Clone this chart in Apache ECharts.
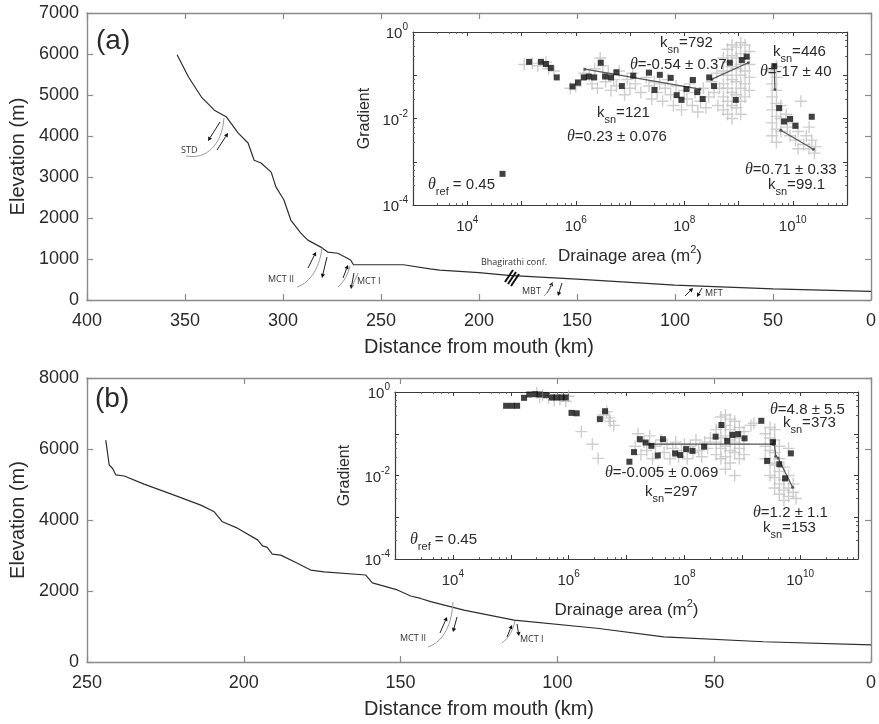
<!DOCTYPE html>
<html><head><meta charset="utf-8">
<script src="https://cdn.jsdelivr.net/npm/echarts@6/dist/echarts.min.js"></script>
<style>html,body{margin:0;padding:0;background:#fff}#c{width:879px;height:724px}</style>
</head><body><div id="c"></div><script>
// ---------- DATA ----------
// Panel (a) river long profile
const profA_km   = [354,348.2,341.6,335,329,322.8,317.8,314.7,311.2,306,303.6,299.5,296,290.9,287.3,280.7,277.2,272,265.5,264,238.6,225,220,200,185,150,100,50,0];
const profA_elev = [5980,5440,4950,4630,4470,4070,3830,3410,3340,3120,2760,2440,1950,1630,1460,1290,1170,1140,975,860,860,760,730,670,600,510,365,270,210];
// Panel (b) river long profile
const profB_km   = [244,242.9,241.8,240.8,238.1,231.8,222.2,213.7,209.4,206.8,202,195.6,194,192.5,190.9,188.2,182.9,178.7,174.4,161.1,159,151,146.8,143.6,140.4,129.8,113.8,87.4,66.1,34.3,0];
const profB_elev = [6250,5550,5450,5270,5240,5010,4700,4420,4230,3950,3770,3440,3270,3230,3040,3010,2780,2590,2540,2450,2230,2030,1860,1790,1700,1460,1180,950,710,570,480];

// Inset (a): values as [log10(drainage area m2), log10(gradient)]
const insetA_crosses = [
 [5.05,-0.75],[5.2,-0.72],[5.3,-0.78],[5.45,-0.7],[5.5,-0.85],[5.6,-0.9],[5.9,-1.3],[6.0,-1.25],[6.1,-1.1],[6.15,-0.95],
 [6.25,-1.0],[6.3,-1.2],[6.35,-0.85],[6.4,-1.3],[6.45,-0.6],[6.5,-0.78],[6.55,-1.15],[6.6,-0.95],[6.65,-1.35],[6.7,-1.1],
 [6.75,-1.25],[6.8,-0.9],[6.9,-1.45],[6.95,-1.1],[7.0,-1.3],
 [7.05,-0.95],[7.1,-1.2],[7.2,-1.4],[7.3,-1.05],[7.35,-1.25],[7.4,-1.55],[7.45,-1.15],[7.5,-1.4],[7.55,-1.2],[7.6,-1.6],
 [7.65,-1.3],[7.7,-1.1],[7.75,-1.45],[7.8,-1.7],[7.85,-1.25],[7.9,-1.5],[7.95,-1.8],[8.0,-1.35],
 [8.05,-1.55],[8.1,-1.2],[8.15,-1.7],[8.2,-1.4],[8.25,-1.85],[8.3,-1.6],[8.35,-1.3],[8.4,-1.75],[8.45,-1.5],[8.5,-1.15],
 [8.55,-1.4],[8.6,-0.95],[8.62,-1.7],[8.65,-1.3],
 [8.72,-0.6],[8.72,-0.9],[8.72,-1.2],[8.72,-1.5],[8.72,-1.8],
 [8.8,-0.4],[8.8,-0.7],[8.8,-1.0],[8.8,-1.3],[8.8,-1.6],[8.8,-1.9],
 [8.88,-0.3],[8.88,-0.55],[8.88,-0.8],[8.88,-1.1],[8.88,-1.4],[8.88,-1.7],[8.88,-2.0],
 [8.96,-0.35],[8.96,-0.6],[8.96,-0.85],[8.96,-1.15],[8.96,-1.45],[8.96,-1.75],
 [9.04,-0.25],[9.04,-0.5],[9.04,-0.75],[9.04,-1.0],[9.04,-1.3],[9.04,-1.6],[9.04,-1.9],
 [9.12,-0.3],[9.12,-0.6],[9.12,-0.9],[9.12,-1.2],[9.12,-1.5],
 [9.2,-0.45],[9.2,-0.75],[9.2,-1.05],[9.2,-1.35],
 [9.62,-0.9],[9.62,-1.2],[9.62,-1.5],[9.62,-1.8],[9.62,-2.1],[9.62,-2.4],
 [9.7,-0.8],[9.7,-1.05],[9.7,-1.35],[9.7,-1.65],[9.7,-1.95],[9.7,-2.25],[9.7,-2.55],
 [9.78,-1.7],[9.78,-2.0],[9.78,-2.3],
 [9.88,-1.9],[9.9,-2.2],[9.95,-2.4],[10.0,-2.1],[10.05,-2.5],[10.1,-2.3],[10.15,-1.6],[10.2,-2.6],[10.25,-2.4],
 [10.3,-2.7],[10.35,-2.5],[10.4,-2.8],[10.42,-2.65],[10.3,-2.2],[10.1,-2.7]
];
const insetA_squares = [
 [4.65,-3.28],[5.14,-0.69],[5.36,-0.69],[5.45,-0.74],[5.54,-0.83],[5.65,-1.05],[5.94,-1.26],[6.04,-1.17],[6.15,-1.05],
 [6.24,-1.03],[6.34,-1.05],[6.46,-0.71],[6.54,-1.03],[6.65,-1.05],[6.75,-0.93],[6.85,-1.25],[7.06,-1.01],[7.35,-0.94],
 [7.45,-1.34],[7.55,-0.99],[7.75,-1.06],[7.86,-1.46],[7.95,-1.57],[8.04,-1.32],[8.16,-1.11],[8.24,-1.39],[8.34,-1.55],
 [8.46,-1.05],[8.55,-1.25],[8.84,-0.71],[8.95,-1.57],[9.06,-0.65],[9.15,-0.57],[9.66,-0.79],[9.75,-1.76],[9.84,-2.07],
 [9.95,-2.01],[10.05,-2.17],[10.35,-1.96]
];
const insetA_fits = [
 [[6.17,-0.86],[8.29,-1.32]],
 [[8.51,-1.09],[9.18,-0.71]],
 [[9.66,-0.76],[9.67,-1.33]],
 [[9.78,-2.27],[10.38,-2.71]]
];
// Inset (b)
const insetB_crosses = [
 [5.45,-0.02],[5.55,-0.08],[5.65,-0.15],[5.75,-0.2],[5.85,-0.18],[5.95,-0.22],[6.0,-0.1],[5.5,-0.12],
 [6.22,-0.95],[6.41,-1.25],[6.51,-1.59],[6.6,-0.55],[6.66,-0.47],[6.72,-0.7],[6.78,-0.8],[6.7,-0.62],
 [7.15,-1.3],[7.2,-1.0],[7.25,-1.5],[7.3,-1.2],[7.35,-1.4],[7.4,-1.05],[7.45,-1.6],[7.5,-1.3],[7.55,-1.9],[7.6,-1.15],
 [7.65,-1.45],[7.7,-1.25],[7.75,-1.6],[7.8,-1.35],[7.85,-1.2],[7.9,-1.55],[7.95,-1.4],[8.0,-1.25],[8.05,-1.6],[8.1,-1.3],
 [8.15,-1.45],[8.2,-1.15],[8.25,-1.4],[8.3,-1.55],[8.35,-1.2],[8.4,-1.35],[8.45,-1.1],
 [8.55,-0.9],[8.55,-1.2],[8.55,-1.5],
 [8.63,-0.6],[8.63,-0.85],[8.63,-1.1],[8.63,-1.35],[8.63,-1.6],
 [8.71,-0.55],[8.71,-0.8],[8.71,-1.05],[8.71,-1.3],[8.71,-1.55],[8.71,-1.85],
 [8.79,-0.65],[8.79,-0.9],[8.79,-1.15],[8.79,-1.4],[8.79,-1.7],
 [8.87,-0.7],[8.87,-0.95],[8.87,-1.2],[8.87,-1.45],[8.87,-2.0],
 [8.95,-0.85],[8.95,-1.1],[8.95,-1.35],[8.95,-1.6],
 [9.03,-0.95],[9.03,-1.25],[9.03,-1.5],[9.15,-0.8],[9.2,-0.75],
 [9.4,-1.0],[9.4,-1.3],[9.4,-1.6],
 [9.48,-0.85],[9.48,-1.1],[9.48,-1.4],[9.48,-1.7],[9.48,-2.0],
 [9.56,-0.9],[9.56,-1.15],[9.56,-1.45],[9.56,-1.75],[9.56,-2.05],[9.56,-2.3],
 [9.64,-1.3],[9.64,-1.6],[9.64,-1.9],[9.64,-2.2],[9.64,-2.45],
 [9.72,-1.8],[9.72,-2.1],[9.72,-2.35],[9.72,-2.6],
 [9.8,-1.35],[9.8,-2.0],[9.8,-2.3],[9.8,-2.5],
 [9.88,-2.2],[9.88,-2.4],[9.93,-2.55]
];
const insetB_squares = [
 [4.92,-0.33],[5.02,-0.33],[5.11,-0.33],[5.23,-0.14],[5.32,-0.06],[5.42,-0.05],[5.5,-0.06],[5.61,-0.07],
 [5.71,-0.13],[5.79,-0.13],[5.88,-0.13],[5.95,-0.13],[6.05,-0.5],[6.14,-0.51],[6.54,-0.65],[6.63,-0.46],
 [7.05,-1.67],[7.13,-1.44],[7.23,-1.13],[7.33,-1.21],[7.43,-1.29],[7.54,-1.52],[7.63,-1.13],[7.84,-1.47],
 [7.93,-1.51],[8.03,-1.37],[8.14,-1.41],[8.34,-1.31],[8.54,-1.07],[8.64,-0.79],[8.74,-1.17],[8.83,-1.03],
 [8.93,-1.01],[9.04,-1.11],[9.33,-0.69],[9.53,-1.2],[9.43,-1.65],[9.64,-1.73],[9.74,-2.07],[9.84,-1.47]
];
const insetB_fits = [
 [[7.4,-1.25],[9.53,-1.25]],
 [[9.55,-1.18],[9.58,-1.54]],
 [[9.62,-1.58],[9.87,-2.28]]
];
const mainTicksA = {min:0, max:400, interval:50};
const mainTicksB = {min:0, max:250, interval:50};

// ---------- CHART ----------
const FF = 'Liberation Sans, Arial, sans-serif';
const T = '#2a2a2a';
const GRID_C = '#8a8a8a';
const pw = v => Math.pow(10, v);
const toXY = arr => arr.map(p => [pw(p[0]), pw(p[1])]);

function logLabel(v){
  const e = Math.round(Math.log10(v));
  if (e % 2 !== 0) return '';
  return '{b|10}{sup|' + e + '}';
}
const richLog = {
  b:{fontSize:15, lineHeight:19, verticalAlign:'bottom', color:T, fontFamily:FF},
  sup:{fontSize:10, lineHeight:10, verticalAlign:'top', color:T, fontFamily:FF}
};

function mainX(grid, cfg, pos, show){
  return {type:'value', gridIndex:grid, position:pos, inverse:true, min:cfg.min, max:cfg.max, interval:cfg.interval,
    axisLine:{show:true, onZero:false, lineStyle:{color:GRID_C, width:1.4}},
    axisTick:{show:true, inside:true, length:6, lineStyle:{color:GRID_C, width:1.2}},
    axisLabel:{show:show, color:T, fontSize:18, fontFamily:FF, margin:12, formatter:v => String(v)},
    splitLine:{show:false},
    name: show ? 'Distance from mouth (km)' : '', nameLocation:'middle', nameGap:37,
    nameTextStyle:{color:T, fontSize:20, fontFamily:FF}};
}
function mainY(grid, max, interval, pos, show){
  return {type:'value', gridIndex:grid, position:pos, min:0, max:max, interval:interval,
    axisLine:{show:true, onZero:false, lineStyle:{color:GRID_C, width:1.4}},
    axisTick:{show:true, inside:true, length:6, lineStyle:{color:GRID_C, width:1.2}},
    axisLabel:{show:show, color:T, fontSize:18, fontFamily:FF, margin:8, formatter:v => String(v)},
    splitLine:{show:false},
    name: show ? 'Elevation (m)' : '', nameLocation:'middle', nameGap:57,
    nameTextStyle:{color:T, fontSize:20, fontFamily:FF}};
}
function insetX(grid, pos, show, gap){
  return {type:'log', logBase:10, gridIndex:grid, position:pos, min:1e3, max:1e11, interval:1,
    axisLine:{show:true, onZero:false, lineStyle:{color:'#3a3a3a', width:1.2}},
    axisTick:{show:true, inside:true, length:4, lineStyle:{color:'#3a3a3a'}},
    minorTick:{show:true, splitNumber:5, length:2, lineStyle:{color:'#666'}},
    axisLabel:{show:show, formatter:logLabel, rich:richLog, margin:10},
    splitLine:{show:false}, minorSplitLine:{show:false},
    name: show ? '{n|Drainage area (m}{s|2}{n|)}' : '', nameLocation:'middle', nameGap:gap,
    nameTextStyle:{rich:{n:{fontSize:17, lineHeight:21, verticalAlign:'bottom', color:T, fontFamily:FF},
                         s:{fontSize:11, lineHeight:11, verticalAlign:'top', color:T, fontFamily:FF}}}};
}
function insetY(grid, pos, show, gap){
  return {type:'log', logBase:10, gridIndex:grid, position:pos, min:1e-4, max:1, interval:1,
    axisLine:{show:true, onZero:false, lineStyle:{color:'#3a3a3a', width:1.2}},
    axisTick:{show:true, inside:true, length:4, lineStyle:{color:'#3a3a3a'}},
    minorTick:{show:true, splitNumber:5, length:2, lineStyle:{color:'#666'}},
    axisLabel:{show:show, formatter:logLabel, rich:richLog, margin:5},
    splitLine:{show:false}, minorSplitLine:{show:false},
    name: show ? 'Gradient' : '', nameLocation:'middle', nameGap:gap,
    nameTextStyle:{color:T, fontSize:16, fontFamily:FF}};
}

const crossSym = 'path://M5,0L5,10M0,5L10,5';
function crossSeries(xi, data){
  return {type:'scatter', xAxisIndex:xi, yAxisIndex:xi, data:toXY(data), symbol:crossSym, symbolSize:12,
    itemStyle:{color:'rgba(0,0,0,0)', borderColor:'#c2c2c2', borderWidth:1.4}, z:3, silent:true};
}
function squareSeries(xi, data){
  return {type:'scatter', xAxisIndex:xi, yAxisIndex:xi, data:toXY(data), symbol:'rect', symbolSize:6,
    itemStyle:{color:'#111'}, z:5, silent:true};
}
function fitSeries(xi, fits){
  return fits.map(f => ({type:'line', xAxisIndex:xi, yAxisIndex:xi, data:toXY(f), symbol:'circle', symbolSize:3,
    showSymbol:true, lineStyle:{color:'#555', width:1.2}, itemStyle:{color:'#555'}, z:4, silent:true}));
}
function profileSeries(xi, km, elev){
  return {type:'line', xAxisIndex:xi, yAxisIndex:xi, data:km.map((k,i)=>[k, elev[i]]), symbol:'none',
    lineStyle:{color:'#2e2e2e', width:1.2}, z:3, silent:true};
}

// annotations
const ann = {
  b:{fontSize:15, lineHeight:16, verticalAlign:'top', fill:T, color:T, fontFamily:FF},
  s:{fontSize:11, lineHeight:11, padding:[9,0,0,0], verticalAlign:'top', fill:T, color:T, fontFamily:FF},
  it:{fontSize:16, lineHeight:16, verticalAlign:'top', fontStyle:'italic', fill:T, color:T, fontFamily:'Liberation Serif, serif'}
};
function txt(x, y, text){
  return {type:'text', x:x, y:y, z:50, style:{text:text, rich:ann, fill:T, align:'left', verticalAlign:'top', fontSize:15, fontFamily:FF}};
}
function small(x, y, text, align){
  return {type:'text', x:x, y:y, z:50, style:{text:text, fill:'#333', fontSize:9, fontFamily:'Open Sans, sans-serif', align:align||'left', verticalAlign:'middle'}};
}
function arc(p){
  return {type:'bezierCurve', z:40, shape:{x1:p[0],y1:p[1],cpx1:p[2],cpy1:p[3],cpx2:p[4],cpy2:p[5],x2:p[6],y2:p[7]},
    style:{stroke:'#9a9a9a', lineWidth:1, fill:null}};
}
function arrow(x1,y1,x2,y2){
  const dx=x2-x1, dy=y2-y1, L=Math.hypot(dx,dy), ux=dx/L, uy=dy/L, h=4, w=2.2;
  const bx=x2-ux*h, by=y2-uy*h;
  return {type:'group', z:41, children:[
    {type:'line', shape:{x1:x1,y1:y1,x2:bx,y2:by}, style:{stroke:'#222', lineWidth:1}},
    {type:'polygon', shape:{points:[[x2,y2],[bx-uy*w,by+ux*w],[bx+uy*w,by-ux*w]]}, style:{fill:'#111'}}
  ]};
}
const graphics = [
  {type:'text', x:96, y:27, z:50, style:{text:'(a)', fill:T, fontSize:28, fontFamily:FF}},
  {type:'text', x:95, y:385, z:50, style:{text:'(b)', fill:T, fontSize:28, fontFamily:FF}},
  // inset a
  txt(660,35,'{b|k}{s|sn}{b|=792}'),
  txt(630,57,'{it|θ}{b|=-0.54 ± 0.37}'),
  txt(597,105,'{b|k}{s|sn}{b|=121}'),
  txt(567,129,'{it|θ}{b|=0.23 ± 0.076}'),
  txt(773,44,'{b|k}{s|sn}{b|=446}'),
  txt(760,64,'{it|θ}{b|=-17 ± 40}'),
  txt(745,162,'{it|θ}{b|=0.71 ± 0.33}'),
  txt(768,177,'{b|k}{s|sn}{b|=99.1}'),
  txt(428,177,'{it|θ}{s|ref}{b| = 0.45}'),
  // inset b
  txt(770,402,'{it|θ}{b|=4.8 ± 5.5}'),
  txt(783,415,'{b|k}{s|sn}{b|=373}'),
  txt(605,465,'{it|θ}{b|=-0.005 ± 0.069}'),
  txt(645,484,'{b|k}{s|sn}{b|=297}'),
  txt(753,505,'{it|θ}{b|=1.2 ± 1.1}'),
  txt(763,520,'{b|k}{s|sn}{b|=153}'),
  txt(410,532,'{it|θ}{s|ref}{b| = 0.45}'),
  // faults panel a
  small(181,150,'STD'),
  arc([186,156, 206,160, 222,145, 224,118]),
  arrow(220,122,208,141), arrow(217,150,228,133),
  small(268,279,'MCT II'),
  arc([297,287, 312,282, 320,265, 322,248]),
  arrow(308,268,316,252), arrow(327,257,322,278),
  small(357,281,'MCT I'),
  arc([338,287, 344,282, 348,274, 350,266]),
  {type:'line', z:40, shape:{x1:352,y1:287,x2:358,y2:273}, style:{stroke:'#9a9a9a', lineWidth:1}},
  arrow(343,278,348,265), arrow(354,273,351,289),
  small(514,262,'Bhagirathi conf.','center'),
  {type:'line', z:42, shape:{x1:505,y1:282,x2:513,y2:270}, style:{stroke:'#111', lineWidth:2}},
  {type:'line', z:42, shape:{x1:508,y1:284,x2:516,y2:272}, style:{stroke:'#111', lineWidth:2}},
  {type:'line', z:42, shape:{x1:511,y1:286,x2:519,y2:274}, style:{stroke:'#111', lineWidth:2}},
  small(522,291,'MBT'),
  arc([544,296, 548,292, 551,288, 553,282]),
  arrow(547,293,553,282), arrow(562,283,558,296),
  arrow(685,296,693,288), arrow(702,288,697,297),
  small(705,293,'MFT'),
  // faults panel b
  small(400,638,'MCT II'),
  arc([428,647, 445,641, 452,622, 453,602]),
  arrow(440,633,447,617), arrow(457,617,453,632),
  arc([502,643, 509,638, 513,630, 515,621]),
  arrow(507,637,512,625), arrow(517,624,519,636),
  small(520,639,'MCT I')
];

const option = {
  animation:false,
  backgroundColor:'#fff',
  grid:[
    {left:85, top:13, width:788, height:287},
    {left:413, top:32, width:434, height:173, show:true, backgroundColor:'#fff', borderWidth:0},
    {left:86, top:378, width:785, height:284},
    {left:395, top:392, width:463, height:167, show:true, backgroundColor:'#fff', borderWidth:0}
  ],
  xAxis:[
    mainX(0, mainTicksA, 'bottom', true), mainX(0, mainTicksA, 'top', false),
    insetX(1, 'bottom', true, 39), insetX(1, 'top', false, 0),
    mainX(2, mainTicksB, 'bottom', true), mainX(2, mainTicksB, 'top', false),
    insetX(3, 'bottom', true, 39), insetX(3, 'top', false, 0)
  ],
  yAxis:[
    mainY(0, 7000, 1000, 'left', true), mainY(0, 7000, 1000, 'right', false),
    insetY(1, 'left', true, 40), insetY(1, 'right', false, 0),
    mainY(2, 8000, 2000, 'left', true), mainY(2, 8000, 2000, 'right', false),
    insetY(3, 'left', true, 42), insetY(3, 'right', false, 0)
  ],
  series:[
    profileSeries(0, profA_km, profA_elev),
    crossSeries(2, insetA_crosses),
    ...fitSeries(2, insetA_fits),
    squareSeries(2, insetA_squares),
    profileSeries(4, profB_km, profB_elev),
    crossSeries(6, insetB_crosses),
    ...fitSeries(6, insetB_fits),
    squareSeries(6, insetB_squares)
  ],
  graphic:{elements:graphics}
};
const chart = echarts.init(document.getElementById('c'), null, {renderer:'canvas'});
chart.setOption(option);
</script></body></html>
